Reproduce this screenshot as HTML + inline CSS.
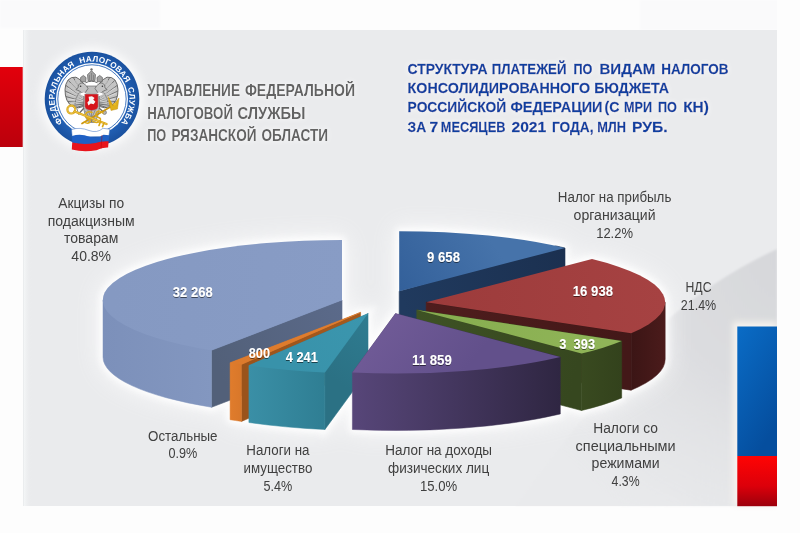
<!DOCTYPE html>
<html><head><meta charset="utf-8">
<style>
html,body{margin:0;padding:0;background:#fff;}
body{width:800px;height:533px;overflow:hidden;position:relative;}
svg{position:absolute;left:0;top:0;will-change:transform;}
</style></head><body>
<svg width="800" height="533" viewBox="0 0 800 533">
<defs>
<linearGradient id="g1" gradientUnits="userSpaceOnUse" x1="399.2" y1="291.2" x2="565.0" y2="248.0"><stop offset="0" stop-color="#203a5e"/><stop offset="1" stop-color="#1b3050"/></linearGradient>
<linearGradient id="g2" gradientUnits="userSpaceOnUse" x1="399.2" y1="291.2" x2="488.6" y2="235.6"><stop offset="0" stop-color="#33609a"/><stop offset="1" stop-color="#4673aa"/></linearGradient>
<linearGradient id="g3" gradientUnits="userSpaceOnUse" x1="342.0" y1="300.0" x2="211.5" y2="350.3"><stop offset="0" stop-color="#5b6a8a"/><stop offset="1" stop-color="#526079"/></linearGradient>
<linearGradient id="g4" gradientUnits="userSpaceOnUse" x1="103.0" y1="0.0" x2="211.5" y2="0.0"><stop offset="0" stop-color="#7c90ba"/><stop offset="1" stop-color="#8397c0"/></linearGradient>
<linearGradient id="g5" gradientUnits="userSpaceOnUse" x1="342.0" y1="300.0" x2="112.9" y2="282.9"><stop offset="0" stop-color="#889cc5"/><stop offset="1" stop-color="#8599c2"/></linearGradient>
<linearGradient id="g6" gradientUnits="userSpaceOnUse" x1="426.2" y1="302.3" x2="631.1" y2="333.2"><stop offset="0" stop-color="#4f1d1d"/><stop offset="1" stop-color="#431818"/></linearGradient>
<linearGradient id="g7" gradientUnits="userSpaceOnUse" x1="631.1" y1="0.0" x2="665.2" y2="0.0"><stop offset="0" stop-color="#3b1515"/><stop offset="1" stop-color="#4b1b1b"/></linearGradient>
<linearGradient id="g8" gradientUnits="userSpaceOnUse" x1="426.2" y1="302.3" x2="663.2" y2="294.4"><stop offset="0" stop-color="#9c3b3b"/><stop offset="1" stop-color="#a64242"/></linearGradient>
<linearGradient id="g9" gradientUnits="userSpaceOnUse" x1="416.8" y1="310.0" x2="581.6" y2="353.5"><stop offset="0" stop-color="#3e5224"/><stop offset="1" stop-color="#36471f"/></linearGradient>
<linearGradient id="g10" gradientUnits="userSpaceOnUse" x1="581.6" y1="0.0" x2="621.7" y2="0.0"><stop offset="0" stop-color="#394a20"/><stop offset="1" stop-color="#33421c"/></linearGradient>
<linearGradient id="g11" gradientUnits="userSpaceOnUse" x1="416.8" y1="310.0" x2="603.3" y2="347.5"><stop offset="0" stop-color="#86ac4e"/><stop offset="1" stop-color="#90b558"/></linearGradient>
<linearGradient id="g12" gradientUnits="userSpaceOnUse" x1="360.6" y1="312.4" x2="241.5" y2="364.4"><stop offset="0" stop-color="#a65a1e"/><stop offset="1" stop-color="#9a531b"/></linearGradient>
<linearGradient id="g13" gradientUnits="userSpaceOnUse" x1="230.1" y1="0.0" x2="241.5" y2="0.0"><stop offset="0" stop-color="#e07c2c"/><stop offset="1" stop-color="#d8772a"/></linearGradient>
<linearGradient id="g14" gradientUnits="userSpaceOnUse" x1="360.6" y1="312.4" x2="235.7" y2="363.6"><stop offset="0" stop-color="#e27e2e"/><stop offset="1" stop-color="#dc7a2c"/></linearGradient>
<linearGradient id="g15" gradientUnits="userSpaceOnUse" x1="368.0" y1="313.5" x2="324.9" y2="372.5"><stop offset="0" stop-color="#2f7c91"/><stop offset="1" stop-color="#2b7184"/></linearGradient>
<linearGradient id="g16" gradientUnits="userSpaceOnUse" x1="248.9" y1="0.0" x2="324.9" y2="0.0"><stop offset="0" stop-color="#3a8fa6"/><stop offset="1" stop-color="#2f7e93"/></linearGradient>
<linearGradient id="g17" gradientUnits="userSpaceOnUse" x1="368.0" y1="313.5" x2="285.7" y2="369.8"><stop offset="0" stop-color="#3b96ae"/><stop offset="1" stop-color="#3892aa"/></linearGradient>
<linearGradient id="g18" gradientUnits="userSpaceOnUse" x1="352.4" y1="0.0" x2="560.3" y2="0.0"><stop offset="0" stop-color="#574679"/><stop offset="1" stop-color="#2f2642"/></linearGradient>
<linearGradient id="g19" gradientUnits="userSpaceOnUse" x1="395.5" y1="313.5" x2="463.8" y2="371.0"><stop offset="0" stop-color="#6f5a96"/><stop offset="1" stop-color="#62508b"/></linearGradient>
<filter id="blur10" filterUnits="userSpaceOnUse" x="0" y="0" width="800" height="533"><feGaussianBlur stdDeviation="12"/></filter>
<filter id="blur6" x="-30%" y="-30%" width="160%" height="160%"><feGaussianBlur stdDeviation="5"/></filter>
<filter id="blur1" filterUnits="userSpaceOnUse" x="0" y="0" width="800" height="533"><feGaussianBlur stdDeviation="1.2"/></filter>
<filter id="glowW" x="-10%" y="-40%" width="120%" height="180%"><feGaussianBlur in="SourceAlpha" stdDeviation="2.5" result="b"/><feFlood flood-color="#ffffff" flood-opacity="0.9" result="w"/><feComposite in="w" in2="b" operator="in" result="g"/><feMerge><feMergeNode in="g"/><feMergeNode in="SourceGraphic"/></feMerge></filter>
<filter id="blur3" filterUnits="userSpaceOnUse" x="0" y="0" width="800" height="533"><feGaussianBlur stdDeviation="3"/></filter>
<filter id="tsh" x="-20%" y="-30%" width="140%" height="160%"><feGaussianBlur in="SourceAlpha" stdDeviation="0.7"/><feOffset dx="0.4" dy="0.7"/><feComponentTransfer><feFuncA type="linear" slope="0.55"/></feComponentTransfer><feMerge><feMergeNode/><feMergeNode in="SourceGraphic"/></feMerge></filter>
<radialGradient id="ringg" cx="92" cy="99" r="47.3" gradientUnits="userSpaceOnUse"><stop offset="0.74" stop-color="#2261b6"/><stop offset="1" stop-color="#1a519f"/></radialGradient>
</defs>
<linearGradient id="redL" x1="0" y1="0" x2="0" y2="1"><stop offset="0" stop-color="#e2000c"/><stop offset="1" stop-color="#bb000c"/></linearGradient>
<linearGradient id="blueR" x1="0" y1="0" x2="0.5" y2="1"><stop offset="0" stop-color="#0a6cc6"/><stop offset="1" stop-color="#054e9e"/></linearGradient>
<linearGradient id="redR" x1="0" y1="0" x2="0" y2="1"><stop offset="0" stop-color="#ff0404"/><stop offset="0.6" stop-color="#dc000a"/><stop offset="1" stop-color="#9c000c"/></linearGradient>
<rect x="0" y="0" width="800" height="533" fill="#fdfdfd"/>
<rect x="0" y="0" width="160" height="28" fill="#fafafb" filter="url(#blur1)"/>
<rect x="640" y="0" width="160" height="30" fill="#fafafb" filter="url(#blur1)"/>
<rect x="23" y="30" width="754" height="476" fill="#eaebed"/>
<radialGradient id="wedge" gradientUnits="userSpaceOnUse" cx="790" cy="260" r="300"><stop offset="0" stop-color="#d6d7da"/><stop offset="0.45" stop-color="#dcdde0"/><stop offset="1" stop-color="#e6e7e9" stop-opacity="0.3"/></radialGradient>
<path d="M515 506 Q590 405 665 322 Q715 278 777 249 L777 506Z" fill="url(#wedge)" filter="url(#blur1)"/>
<linearGradient id="ledge" x1="0" y1="0" x2="1" y2="0"><stop offset="0" stop-color="#e6e8ea"/><stop offset="0.15" stop-color="#f3f5f6"/><stop offset="1" stop-color="#eaebed" stop-opacity="0"/></linearGradient>
<rect x="23" y="30" width="9" height="476" fill="url(#ledge)"/>
<rect x="0" y="67" width="22.7" height="80" fill="url(#redL)"/>
<rect x="733" y="322" width="44" height="184" fill="#f6f3ee" filter="url(#blur3)"/>
<rect x="737.3" y="326.5" width="39.7" height="129.5" fill="url(#blueR)"/>
<rect x="737.3" y="456" width="39.7" height="50.2" fill="url(#redR)"/>
<rect x="777" y="0" width="23" height="533" fill="#fdfdfd"/>

<g filter="url(#blur10)" opacity="0.8"><g><path d="M399.2 291.2 L555.8 245.9 L565.0 248.0 L565.0 305.0 L399.2 348.2Z" fill="#ffffff" stroke="#ffffff" stroke-width="6" stroke="#ffffff" stroke-width="0.6"/><path d="M399.2 291.2 L399.2 231.2 A239 60 0 0 1 565.0 248.0Z" fill="#ffffff" stroke="#ffffff" stroke-width="6"/></g>
<g><path d="M342.0 300.0 L201.2 348.5 L211.5 350.3 L211.5 407.3 L342.0 357.0Z" fill="#ffffff" stroke="#ffffff" stroke-width="6" stroke="#ffffff" stroke-width="0.6"/><path d="M342.0 300.0 L211.5 350.3 L211.5 407.3 A239 60 0 0 1 103.0 357.0 L103.0 300.0Z" fill="#ffffff" stroke="#ffffff" stroke-width="6" stroke="#ffffff" stroke-width="0.5"/><path d="M342.0 300.0 L211.5 350.3 A239 60 0 0 1 342.0 240.0Z" fill="#ffffff" stroke="#ffffff" stroke-width="6"/></g>
<g><path d="M426.2 302.3 L637.3 330.5 L631.1 333.2 L631.1 390.2 L426.2 359.3Z" fill="#ffffff" stroke="#ffffff" stroke-width="6" stroke="#ffffff" stroke-width="0.6"/><path d="M426.2 302.3 L665.2 302.3 L665.2 359.3 A239 60 0 0 1 631.1 390.2 L631.1 333.2Z" fill="#ffffff" stroke="#ffffff" stroke-width="6" stroke="#ffffff" stroke-width="0.5"/><path d="M426.2 302.3 L592.0 259.1 A239 60 0 0 1 631.1 333.2Z" fill="#ffffff" stroke="#ffffff" stroke-width="6"/></g>
<g><path d="M416.8 310.0 L590.5 351.2 L581.6 353.5 L581.6 410.5 L416.8 367.0Z" fill="#ffffff" stroke="#ffffff" stroke-width="6" stroke="#ffffff" stroke-width="0.6"/><path d="M416.8 310.0 L621.7 340.9 L621.7 397.9 A239 60 0 0 1 581.6 410.5 L581.6 353.5Z" fill="#ffffff" stroke="#ffffff" stroke-width="6" stroke="#ffffff" stroke-width="0.5"/><path d="M416.8 310.0 L621.7 340.9 A239 60 0 0 1 581.6 353.5Z" fill="#ffffff" stroke="#ffffff" stroke-width="6"/></g>
<g><path d="M360.6 312.4 L237.6 363.8 L241.5 364.4 L241.5 421.4 L360.6 369.4Z" fill="#ffffff" stroke="#ffffff" stroke-width="6" stroke="#ffffff" stroke-width="0.6"/><path d="M360.6 312.4 L241.5 364.4 L241.5 421.4 A239 60 0 0 1 230.1 419.7 L230.1 362.7Z" fill="#ffffff" stroke="#ffffff" stroke-width="6" stroke="#ffffff" stroke-width="0.5"/><path d="M360.6 312.4 L241.5 364.4 A239 60 0 0 1 230.1 362.7Z" fill="#ffffff" stroke="#ffffff" stroke-width="6"/></g>
<g><path d="M368.0 313.5 L312.6 371.9 L324.9 372.5 L324.9 429.5 L368.0 370.5Z" fill="#ffffff" stroke="#ffffff" stroke-width="6" stroke="#ffffff" stroke-width="0.6"/><path d="M368.0 313.5 L324.9 372.5 L324.9 429.5 A239 60 0 0 1 248.9 422.5 L248.9 365.5Z" fill="#ffffff" stroke="#ffffff" stroke-width="6" stroke="#ffffff" stroke-width="0.5"/><path d="M368.0 313.5 L324.9 372.5 A239 60 0 0 1 248.9 365.5Z" fill="#ffffff" stroke="#ffffff" stroke-width="6"/></g>
<g><path d="M395.5 313.5 L560.3 357.0 L560.3 414.0 A239 60 0 0 1 352.4 429.5 L352.4 372.5Z" fill="#ffffff" stroke="#ffffff" stroke-width="6" stroke="#ffffff" stroke-width="0.5"/><path d="M395.5 313.5 L560.3 357.0 A239 60 0 0 1 352.4 372.5Z" fill="#ffffff" stroke="#ffffff" stroke-width="6"/></g></g>
<g filter="url(#blur3)" opacity="0.9"><g><path d="M399.2 291.2 L555.8 245.9 L565.0 248.0 L565.0 305.0 L399.2 348.2Z" fill="#ffffff" stroke="#ffffff" stroke-width="6" stroke="#ffffff" stroke-width="0.6"/><path d="M399.2 291.2 L399.2 231.2 A239 60 0 0 1 565.0 248.0Z" fill="#ffffff" stroke="#ffffff" stroke-width="6"/></g>
<g><path d="M342.0 300.0 L201.2 348.5 L211.5 350.3 L211.5 407.3 L342.0 357.0Z" fill="#ffffff" stroke="#ffffff" stroke-width="6" stroke="#ffffff" stroke-width="0.6"/><path d="M342.0 300.0 L211.5 350.3 L211.5 407.3 A239 60 0 0 1 103.0 357.0 L103.0 300.0Z" fill="#ffffff" stroke="#ffffff" stroke-width="6" stroke="#ffffff" stroke-width="0.5"/><path d="M342.0 300.0 L211.5 350.3 A239 60 0 0 1 342.0 240.0Z" fill="#ffffff" stroke="#ffffff" stroke-width="6"/></g>
<g><path d="M426.2 302.3 L637.3 330.5 L631.1 333.2 L631.1 390.2 L426.2 359.3Z" fill="#ffffff" stroke="#ffffff" stroke-width="6" stroke="#ffffff" stroke-width="0.6"/><path d="M426.2 302.3 L665.2 302.3 L665.2 359.3 A239 60 0 0 1 631.1 390.2 L631.1 333.2Z" fill="#ffffff" stroke="#ffffff" stroke-width="6" stroke="#ffffff" stroke-width="0.5"/><path d="M426.2 302.3 L592.0 259.1 A239 60 0 0 1 631.1 333.2Z" fill="#ffffff" stroke="#ffffff" stroke-width="6"/></g>
<g><path d="M416.8 310.0 L590.5 351.2 L581.6 353.5 L581.6 410.5 L416.8 367.0Z" fill="#ffffff" stroke="#ffffff" stroke-width="6" stroke="#ffffff" stroke-width="0.6"/><path d="M416.8 310.0 L621.7 340.9 L621.7 397.9 A239 60 0 0 1 581.6 410.5 L581.6 353.5Z" fill="#ffffff" stroke="#ffffff" stroke-width="6" stroke="#ffffff" stroke-width="0.5"/><path d="M416.8 310.0 L621.7 340.9 A239 60 0 0 1 581.6 353.5Z" fill="#ffffff" stroke="#ffffff" stroke-width="6"/></g>
<g><path d="M360.6 312.4 L237.6 363.8 L241.5 364.4 L241.5 421.4 L360.6 369.4Z" fill="#ffffff" stroke="#ffffff" stroke-width="6" stroke="#ffffff" stroke-width="0.6"/><path d="M360.6 312.4 L241.5 364.4 L241.5 421.4 A239 60 0 0 1 230.1 419.7 L230.1 362.7Z" fill="#ffffff" stroke="#ffffff" stroke-width="6" stroke="#ffffff" stroke-width="0.5"/><path d="M360.6 312.4 L241.5 364.4 A239 60 0 0 1 230.1 362.7Z" fill="#ffffff" stroke="#ffffff" stroke-width="6"/></g>
<g><path d="M368.0 313.5 L312.6 371.9 L324.9 372.5 L324.9 429.5 L368.0 370.5Z" fill="#ffffff" stroke="#ffffff" stroke-width="6" stroke="#ffffff" stroke-width="0.6"/><path d="M368.0 313.5 L324.9 372.5 L324.9 429.5 A239 60 0 0 1 248.9 422.5 L248.9 365.5Z" fill="#ffffff" stroke="#ffffff" stroke-width="6" stroke="#ffffff" stroke-width="0.5"/><path d="M368.0 313.5 L324.9 372.5 A239 60 0 0 1 248.9 365.5Z" fill="#ffffff" stroke="#ffffff" stroke-width="6"/></g>
<g><path d="M395.5 313.5 L560.3 357.0 L560.3 414.0 A239 60 0 0 1 352.4 429.5 L352.4 372.5Z" fill="#ffffff" stroke="#ffffff" stroke-width="6" stroke="#ffffff" stroke-width="0.5"/><path d="M395.5 313.5 L560.3 357.0 A239 60 0 0 1 352.4 372.5Z" fill="#ffffff" stroke="#ffffff" stroke-width="6"/></g></g>
<g id="pie">
<g><path d="M399.2 291.2 L555.8 245.9 L565.0 248.0 L565.0 305.0 L399.2 348.2Z" fill="url(#g1)" stroke="url(#g1)" stroke-width="0.6"/><path d="M399.2 291.2 L399.2 231.2 A239 60 0 0 1 565.0 248.0Z" fill="url(#g2)"/></g>
<g><path d="M342.0 300.0 L201.2 348.5 L211.5 350.3 L211.5 407.3 L342.0 357.0Z" fill="url(#g3)" stroke="url(#g3)" stroke-width="0.6"/><path d="M342.0 300.0 L211.5 350.3 L211.5 407.3 A239 60 0 0 1 103.0 357.0 L103.0 300.0Z" fill="url(#g4)" stroke="url(#g4)" stroke-width="0.5"/><path d="M342.0 300.0 L211.5 350.3 A239 60 0 0 1 342.0 240.0Z" fill="url(#g5)"/></g>
<g><path d="M426.2 302.3 L637.3 330.5 L631.1 333.2 L631.1 390.2 L426.2 359.3Z" fill="url(#g6)" stroke="url(#g6)" stroke-width="0.6"/><path d="M426.2 302.3 L665.2 302.3 L665.2 359.3 A239 60 0 0 1 631.1 390.2 L631.1 333.2Z" fill="url(#g7)" stroke="url(#g7)" stroke-width="0.5"/><path d="M426.2 302.3 L592.0 259.1 A239 60 0 0 1 631.1 333.2Z" fill="url(#g8)"/></g>
<g><path d="M416.8 310.0 L590.5 351.2 L581.6 353.5 L581.6 410.5 L416.8 367.0Z" fill="url(#g9)" stroke="url(#g9)" stroke-width="0.6"/><path d="M416.8 310.0 L621.7 340.9 L621.7 397.9 A239 60 0 0 1 581.6 410.5 L581.6 353.5Z" fill="url(#g10)" stroke="url(#g10)" stroke-width="0.5"/><path d="M416.8 310.0 L621.7 340.9 A239 60 0 0 1 581.6 353.5Z" fill="url(#g11)"/></g>
<g><path d="M360.6 312.4 L237.6 363.8 L241.5 364.4 L241.5 421.4 L360.6 369.4Z" fill="url(#g12)" stroke="url(#g12)" stroke-width="0.6"/><path d="M360.6 312.4 L241.5 364.4 L241.5 421.4 A239 60 0 0 1 230.1 419.7 L230.1 362.7Z" fill="url(#g13)" stroke="url(#g13)" stroke-width="0.5"/><path d="M360.6 312.4 L241.5 364.4 A239 60 0 0 1 230.1 362.7Z" fill="url(#g14)"/></g>
<g><path d="M368.0 313.5 L312.6 371.9 L324.9 372.5 L324.9 429.5 L368.0 370.5Z" fill="url(#g15)" stroke="url(#g15)" stroke-width="0.6"/><path d="M368.0 313.5 L324.9 372.5 L324.9 429.5 A239 60 0 0 1 248.9 422.5 L248.9 365.5Z" fill="url(#g16)" stroke="url(#g16)" stroke-width="0.5"/><path d="M368.0 313.5 L324.9 372.5 A239 60 0 0 1 248.9 365.5Z" fill="url(#g17)"/></g>
<g><path d="M395.5 313.5 L560.3 357.0 L560.3 414.0 A239 60 0 0 1 352.4 429.5 L352.4 372.5Z" fill="url(#g18)" stroke="url(#g18)" stroke-width="0.5"/><path d="M395.5 313.5 L560.3 357.0 A239 60 0 0 1 352.4 372.5Z" fill="url(#g19)"/></g>
</g>
<g font-family="Liberation Sans, sans-serif" font-size="14" fill="#404040" text-anchor="middle">
<text x="91.2" y="207.8" textLength="66" lengthAdjust="spacingAndGlyphs">Акцизы по</text>
<text x="91.2" y="225.6" textLength="87" lengthAdjust="spacingAndGlyphs">подакцизным</text>
<text x="91.2" y="243.4">товарам</text>
<text x="91.2" y="261.2">40.8%</text>
<text x="614.6" y="202.3" textLength="113.5" lengthAdjust="spacingAndGlyphs">Налог на прибыль</text>
<text x="614.6" y="220.1" textLength="82" lengthAdjust="spacingAndGlyphs">организаций</text>
<text x="614.6" y="237.9" textLength="36.8" lengthAdjust="spacingAndGlyphs">12.2%</text>
<text x="698.5" y="291.7" textLength="26" lengthAdjust="spacingAndGlyphs">НДС</text>
<text x="698.5" y="309.5" textLength="35.4" lengthAdjust="spacingAndGlyphs">21.4%</text>
<text x="625.6" y="432.8" textLength="64.8" lengthAdjust="spacingAndGlyphs">Налоги со</text>
<text x="625.6" y="450.6" textLength="100" lengthAdjust="spacingAndGlyphs">специальными</text>
<text x="625.6" y="468.4" textLength="68" lengthAdjust="spacingAndGlyphs">режимами</text>
<text x="625.6" y="486.2" textLength="28" lengthAdjust="spacingAndGlyphs">4.3%</text>
<text x="438.6" y="455.2" textLength="106.8" lengthAdjust="spacingAndGlyphs">Налог на доходы</text>
<text x="438.6" y="473.0" textLength="101.2" lengthAdjust="spacingAndGlyphs">физических лиц</text>
<text x="438.6" y="490.8" textLength="37.2" lengthAdjust="spacingAndGlyphs">15.0%</text>
<text x="277.9" y="455.0" textLength="63.2" lengthAdjust="spacingAndGlyphs">Налоги на</text>
<text x="277.9" y="472.8" textLength="68.8" lengthAdjust="spacingAndGlyphs">имущество</text>
<text x="277.9" y="490.6" textLength="28.8" lengthAdjust="spacingAndGlyphs">5.4%</text>
<text x="182.8" y="440.5" textLength="69.5" lengthAdjust="spacingAndGlyphs">Остальные</text>
<text x="182.8" y="458.3" textLength="28.8" lengthAdjust="spacingAndGlyphs">0.9%</text>
</g>
<g font-family="Liberation Sans, sans-serif" font-size="13.8" font-weight="bold" fill="#fff" filter="url(#tsh)">
<text x="172.8" y="296.8" textLength="39.9" lengthAdjust="spacingAndGlyphs" xml:space="preserve">32 268</text>
<text x="248.8" y="357.8" textLength="21.2" lengthAdjust="spacingAndGlyphs" xml:space="preserve">800</text>
<text x="285.7" y="361.9" textLength="32.2" lengthAdjust="spacingAndGlyphs" xml:space="preserve">4 241</text>
<text x="427" y="262" textLength="33.0" lengthAdjust="spacingAndGlyphs" xml:space="preserve">9 658</text>
<text x="412" y="364.5" textLength="39.9" lengthAdjust="spacingAndGlyphs" xml:space="preserve">11 859</text>
<text x="559.25" y="348.5" textLength="35.8" lengthAdjust="spacingAndGlyphs" xml:space="preserve">3  393</text>
<text x="572.8" y="296.4" textLength="40.2" lengthAdjust="spacingAndGlyphs" xml:space="preserve">16 938</text>
</g>
<g font-family="Liberation Sans, sans-serif" font-size="14.8" font-weight="bold" fill="#0d3fa0" stroke="#0d3fa0" stroke-width="0.3" filter="url(#glowW)">
<text x="407.6" y="74" textLength="80.0" lengthAdjust="spacingAndGlyphs">СТРУКТУРА</text>
<text x="491.7" y="74" textLength="74.7" lengthAdjust="spacingAndGlyphs">ПЛАТЕЖЕЙ</text>
<text x="573.5" y="74" textLength="18.9" lengthAdjust="spacingAndGlyphs">ПО</text>
<text x="599.4" y="74" textLength="56.0" lengthAdjust="spacingAndGlyphs">ВИДАМ</text>
<text x="661.2" y="74" textLength="67.2" lengthAdjust="spacingAndGlyphs">НАЛОГОВ</text>
<text x="407.6" y="93" textLength="182.5" lengthAdjust="spacingAndGlyphs">КОНСОЛИДИРОВАННОГО</text>
<text x="594.2" y="93" textLength="74.7" lengthAdjust="spacingAndGlyphs">БЮДЖЕТА</text>
<text x="407.6" y="112" textLength="98.7" lengthAdjust="spacingAndGlyphs">РОССИЙСКОЙ</text>
<text x="510.4" y="112" textLength="92.1" lengthAdjust="spacingAndGlyphs">ФЕДЕРАЦИИ</text>
<text x="604.5" y="112" textLength="14.9" lengthAdjust="spacingAndGlyphs">(С</text>
<text x="624.1" y="112" textLength="28.0" lengthAdjust="spacingAndGlyphs">МРИ</text>
<text x="657.9" y="112" textLength="18.9" lengthAdjust="spacingAndGlyphs">ПО</text>
<text x="683.2" y="112" textLength="25.6" lengthAdjust="spacingAndGlyphs">КН)</text>
<text x="407.6" y="132" textLength="18.6" lengthAdjust="spacingAndGlyphs">ЗА</text>
<text x="429.4" y="132" textLength="8.7" lengthAdjust="spacingAndGlyphs">7</text>
<text x="440.8" y="132" textLength="64.6" lengthAdjust="spacingAndGlyphs">МЕСЯЦЕВ</text>
<text x="511.5" y="132" textLength="34.7" lengthAdjust="spacingAndGlyphs">2021</text>
<text x="552.0" y="132" textLength="41.5" lengthAdjust="spacingAndGlyphs">ГОДА,</text>
<text x="597.2" y="132" textLength="28.8" lengthAdjust="spacingAndGlyphs">МЛН</text>
<text x="632.1" y="132" textLength="35.5" lengthAdjust="spacingAndGlyphs">РУБ.</text>
</g>
<g font-family="Liberation Sans, sans-serif" font-size="16.6" font-weight="bold" fill="#626262" filter="url(#glowW)">
<text x="147.2" y="96.3" textLength="92.8" lengthAdjust="spacingAndGlyphs">УПРАВЛЕНИЕ</text>
<text x="244.9" y="96.3" textLength="110.1" lengthAdjust="spacingAndGlyphs">ФЕДЕРАЛЬНОЙ</text>
<text x="147.2" y="118.6" textLength="85.8" lengthAdjust="spacingAndGlyphs">НАЛОГОВОЙ</text>
<text x="237.5" y="118.6" textLength="67.9" lengthAdjust="spacingAndGlyphs">СЛУЖБЫ</text>
<text x="147.2" y="140.9" textLength="19.1" lengthAdjust="spacingAndGlyphs">ПО</text>
<text x="171.4" y="140.9" textLength="85.1" lengthAdjust="spacingAndGlyphs">РЯЗАНСКОЙ</text>
<text x="261.4" y="140.9" textLength="66.6" lengthAdjust="spacingAndGlyphs">ОБЛАСТИ</text>
</g>
<g id="logo">
<circle cx="92" cy="99" r="52" fill="#ffffff" opacity="0.8" filter="url(#blur6)"/>
<circle cx="92" cy="99" r="47.3" fill="url(#ringg)"/>
<circle cx="92" cy="99" r="36" fill="#ffffff"/>
<circle cx="92" cy="99" r="34.2" fill="none" stroke="#2f69b8" stroke-width="0.9"/>
<path id="ringtext" d="M62.93 122.54 A37.4 37.4 0 1 1 121.07 122.54" fill="none"/>
<text font-family="Liberation Sans, sans-serif" font-size="8.2" font-weight="bold" fill="#ffffff" style="white-space:pre"><textPath href="#ringtext" startOffset="0" textLength="168" lengthAdjust="spacing">ФЕДЕРАЛЬНАЯ  НАЛОГОВАЯ  СЛУЖБА</textPath></text>
<g id="eagle">
<!-- wings -->
<path d="M86.5 87 L80.5 80 L76 77.2 L71.5 77.6 L68 80 L65.8 84.5 L65 89.5 L65.4 95 L66.8 100 L69.4 104 L73.4 106.8 L78.5 107.8 L83.5 106.5 L86 101Z" fill="#c4c4c4" stroke="#555" stroke-width="0.85"/>
<path d="M96.5 87 L102.5 80 L107 77.2 L111.5 77.6 L115 80 L117.2 84.5 L118 89.5 L117.6 95 L116.2 100 L113.6 104 L109.6 106.8 L104.5 107.8 L99.5 106.5 L97 101Z" fill="#c4c4c4" stroke="#555" stroke-width="0.85"/>
<g fill="none" stroke="#5c5c5c" stroke-width="0.8">
<path d="M85.5 98 L73.5 77.8 M85.5 99 L68.5 80.5 M85.5 100 L66 85.5 M85.5 101 L65.2 91 M85 102 L65.8 96.5 M85 103 L67.8 101.5 M84.5 104 L71.5 105.5 M84 105 L76.5 107.5"/>
<path d="M97.5 98 L109.5 77.8 M97.5 99 L114.5 80.5 M97.5 100 L117 85.5 M97.5 101 L117.8 91 M98 102 L117.2 96.5 M98 103 L115.2 101.5 M98.5 104 L111.5 105.5 M99 105 L106.5 107.5"/>
<path d="M84 90 Q76 92 75 104 M99 90 Q107 92 108 104" stroke="#555" stroke-width="0.6"/>
</g>
<g fill="none" stroke="#f4f4f4" stroke-width="0.55">
<path d="M84 96.5 L75 80 M84 97.5 L70.5 83 M84 98.5 L68 88 M84 99.5 L67.5 93.5 M84 100.5 L68.5 99 M84 101.5 L70.5 103"/>
<path d="M99 96.5 L108 80 M99 97.5 L112.5 83 M99 98.5 L115 88 M99 99.5 L115.5 93.5 M99 100.5 L114.5 99 M99 101.5 L112.5 103"/>
</g>
<!-- body / tail -->
<path d="M87 86 L96 86 L99 94 L99.5 108 L97.5 117 L94.5 122.5 L88.5 122.5 L85.5 117 L83.5 108 L84 94Z" fill="#bdbdbd" stroke="#5f5f5f" stroke-width="0.6"/>
<path d="M85.5 111 L91.5 122 L97.5 111 M87.5 109.5 L91.5 118.5 L95.5 109.5 M91.5 110 L91.5 122" fill="none" stroke="#6a6a6a" stroke-width="0.6"/>
<path d="M84 108 L79.5 113 M99 108 L103.5 112" stroke="#6a6a6a" stroke-width="1.3" fill="none"/>
<circle cx="104.5" cy="112.5" r="2" fill="#b0b0b0" stroke="#5a5a5a" stroke-width="0.5"/>
<path d="M79 115 L76 106" stroke="#8a8a8a" stroke-width="1" fill="none"/>
<!-- heads -->
<path d="M88 88.5 Q85 82.5 81 83 Q77.5 84 78 88 L75.8 89.6 L78.8 90.6 Q81 93.2 85 93Z" fill="#c4c4c4" stroke="#555" stroke-width="0.65"/>
<path d="M95 88.5 Q98 82.5 102 83 Q105.5 84 105 88 L107.2 89.6 L104.2 90.6 Q102 93.2 98 93Z" fill="#c4c4c4" stroke="#555" stroke-width="0.65"/>
<circle cx="80.6" cy="86.3" r="0.8" fill="#333"/><circle cx="102.4" cy="86.3" r="0.8" fill="#333"/>
<path d="M79.8 94 Q83 90.8 86.2 93.2 L85.2 96.4 Q81.8 95.6 79.8 94Z" fill="#ffffff"/>
<path d="M103.2 94 Q100 90.8 96.8 93.2 L97.8 96.4 Q101.2 95.6 103.2 94Z" fill="#ffffff"/>
<!-- crowns -->
<path d="M88 80.8 L87.5 74.6 L89.7 72.6 L91.5 70.6 L93.3 72.6 L95.5 74.6 L95 80.8Z" fill="#a3a3a3" stroke="#4f4f4f" stroke-width="0.6"/>
<path d="M89.5 80 L89.5 75 M91.5 80 L91.5 73 M93.5 80 L93.5 75" stroke="#666" stroke-width="0.5"/>
<circle cx="91.5" cy="69.4" r="1.2" fill="#6f6f6f"/>
<path d="M80.8 81.8 L80.5 77.6 L83.3 75.4 L86.1 77.6 L85.8 81.8Z" fill="#a3a3a3" stroke="#4f4f4f" stroke-width="0.6"/>
<path d="M97.2 81.8 L96.9 77.6 L99.7 75.4 L102.5 77.6 L102.2 81.8Z" fill="#a3a3a3" stroke="#4f4f4f" stroke-width="0.6"/>
<path d="M85.5 82.8 Q91.5 79.6 97.5 82.8" fill="none" stroke="#5a5a5a" stroke-width="0.9"/>
<!-- shield -->
<path d="M84.8 94 L98.2 94 L98.2 106.5 Q98 109.8 91.5 110.6 Q85 109.8 84.8 106.5Z" fill="#d6141c" stroke="#9a9a9a" stroke-width="0.6"/>
<path d="M88.6 96.8 L92 96.2 L94.6 98 L93.2 99.6 L95.4 101.8 L93.6 104.2 L90.8 103.4 L88.4 105.4 L87.4 102.6 L89.2 100.4Z" fill="#f6f6f6"/>
</g>
<!-- keys -->
<g fill="none" stroke-linecap="round" stroke-linejoin="round">
<path d="M114.5 104.5 L82 123.5" stroke="#c9940e" stroke-width="1.7"/>
<path d="M103 113 Q99 109.5 96.5 112.5 Q94.5 116 98.5 117.5 Q102 118.5 99.5 121.5 Q96 123.5 92.5 121 M92 112.5 Q88 110.5 86 113.5 Q84.5 117 88 118.5 Q91.5 119.5 89.5 122.5 Q87 124 84.5 122" stroke="#dcaa18" stroke-width="1.5"/>
<circle cx="71.3" cy="109.6" r="3.9" stroke="#d9a514" stroke-width="2.2"/>
<circle cx="71.3" cy="109.6" r="3.9" stroke="#f4d46a" stroke-width="0.6"/>
<path d="M74.5 111.5 L106.5 124" stroke="#d9a514" stroke-width="2.4"/>
<path d="M74.5 111.5 L106.5 124" stroke="#f2cf5e" stroke-width="0.7"/>
<path d="M100.5 121.6 L99 125.5 M104 123 L102.5 126.6" stroke="#d9a514" stroke-width="1.6"/>
</g>
<path d="M108.5 100.5 L113 105.5 L119 98 L117.5 109 L111 110.5Z" fill="#e0b01c" stroke="#b8860b" stroke-width="0.4"/>
<path d="M107.5 95.5 L112.5 104 L109.5 104.5Z" fill="#d9a514"/>
<circle cx="114.6" cy="104.3" r="1.3" fill="#e8bc2a"/>
<!-- flag -->
<path d="M71.5 129.5 Q80 126.8 89 130.5 Q97 133.5 103 128.3 L109.8 129.2 L108.8 136.5 L72.2 137Z" fill="#ffffff" stroke="#3a6fc0" stroke-width="0.5"/>
<path d="M72 136 Q80.5 133 89.5 136.8 Q97.5 139.8 103.5 134.8 L109.2 135.3 L108.6 141.5 Q101.5 141 95.5 143.2 Q84 145.5 72.2 142.8Z" fill="#1f60c4"/>
<path d="M72.2 142.6 Q84 145.3 95.5 143 Q101.5 140.8 108.6 141.3 L108.1 147.6 Q101.5 147.4 96.5 150.2 Q84 152.5 71.8 149.6Z" fill="#e8141c"/>
<path d="M102 135 L101 149" stroke="#a80c12" stroke-width="1" opacity="0.5"/>
</g>

</svg>
</body></html>
